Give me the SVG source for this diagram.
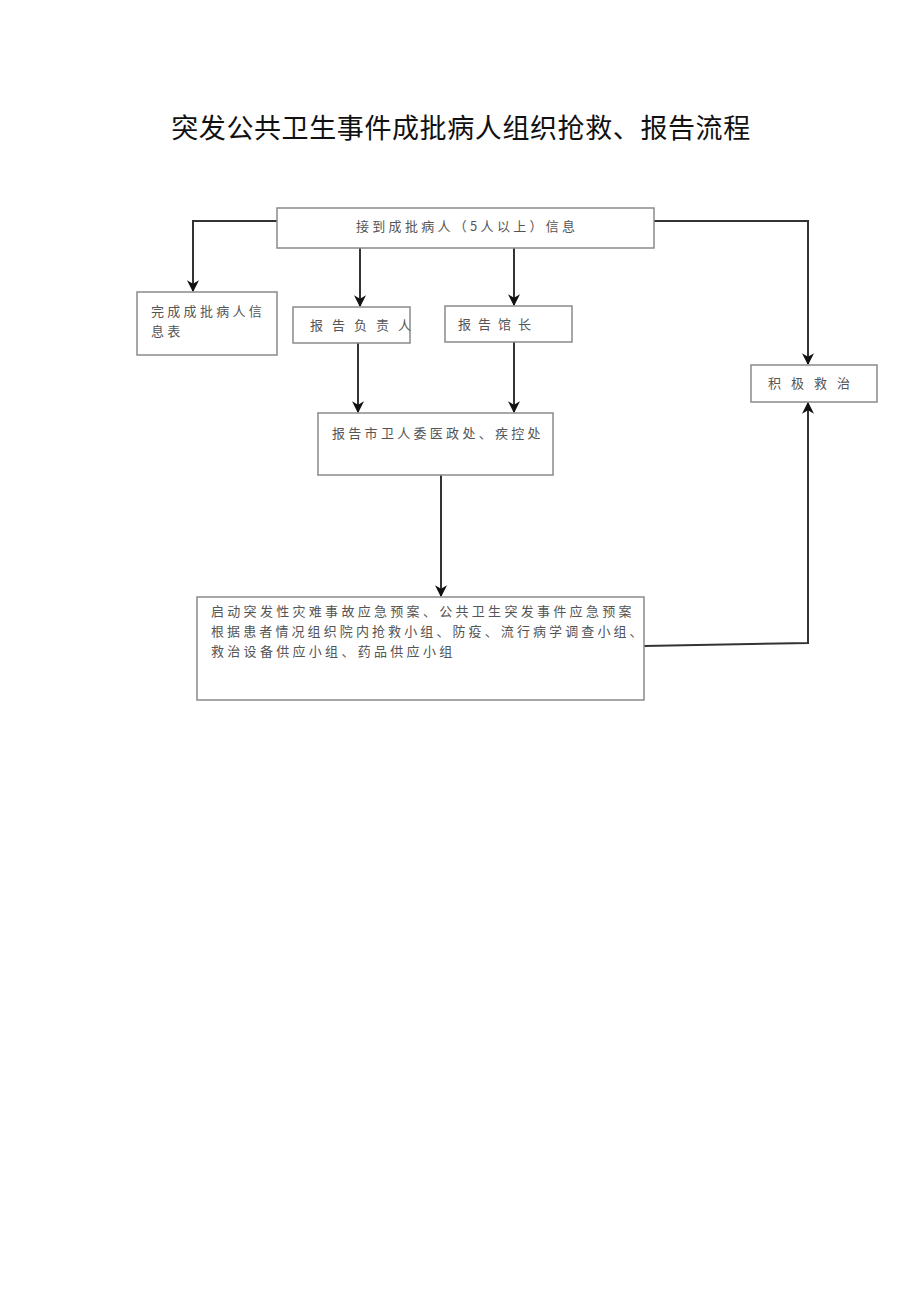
<svg xmlns="http://www.w3.org/2000/svg" width="920" height="1301" viewBox="0 0 920 1301">
<style>
.box{fill:#fff;stroke:#8a8a8a;stroke-width:1.5}
.t{font-family:"Noto Sans CJK SC","Liberation Sans",sans-serif;font-size:13px;fill:#555;letter-spacing:3.3px}
.title{font-family:"Noto Sans CJK SC","Liberation Serif",serif;font-size:27px;fill:#111;letter-spacing:0.6px}
.c{fill:none;stroke:#333;stroke-width:2}
</style>
<defs>
<marker id="ah" viewBox="0 0 10 10" refX="9" refY="5" markerWidth="6" markerHeight="6" orient="auto" markerUnits="strokeWidth">
<path d="M0,0 L10,5 L0,10 L3,5 z" fill="#111"/>
</marker>
</defs>
<rect width="920" height="1301" fill="#fff"/>
<text class="title" x="461" y="138" text-anchor="middle">突发公共卫生事件成批病人组织抢救、报告流程</text>
<g id="connectors">
<path class="c" d="M277,221 H193 V291" marker-end="url(#ah)"/>
<path class="c" d="M360,248 V306" marker-end="url(#ah)"/>
<path class="c" d="M514,248 V305" marker-end="url(#ah)"/>
<path class="c" d="M654,221 H808 V364" marker-end="url(#ah)"/>
<path class="c" d="M358,343 V412" marker-end="url(#ah)"/>
<path class="c" d="M514,342 V412" marker-end="url(#ah)"/>
<path class="c" d="M441,475 L441,596" marker-end="url(#ah)"/>
<path class="c" d="M644,646 L808,643 V403" marker-end="url(#ah)"/>
</g>
<g id="n-receive">
<rect class="box" x="277" y="208" width="377" height="40"/>
<text class="t" x="356" y="231">接到成批病人（5人以上）信息</text>
</g>
<g id="n-form">
<rect class="box" x="137" y="292" width="140" height="63"/>
<text class="t" x="151" y="316">完成成批病人信</text>
<text class="t" x="151" y="336">息表</text>
</g>
<g id="n-leader">
<rect class="box" x="293" y="307" width="117" height="36"/>
<text class="t" x="310" y="330" style="letter-spacing:9px">报告负责人</text>
</g>
<g id="n-director">
<rect class="box" x="445" y="306" width="127" height="36"/>
<text class="t" x="458" y="329" style="letter-spacing:7px">报告馆长</text>
</g>
<g id="n-treat">
<rect class="box" x="751" y="365" width="126" height="37"/>
<text class="t" x="768" y="388" style="letter-spacing:10px">积极救治</text>
</g>
<g id="n-bureau">
<rect class="box" x="318" y="413" width="235" height="62"/>
<text class="t" x="332" y="438">报告市卫人委医政处、疾控处</text>
</g>
<g id="n-plan">
<rect class="box" x="197" y="597" width="447" height="103"/>
<text class="t" x="211" y="616">启动突发性灾难事故应急预案、公共卫生突发事件应急预案</text>
<text class="t" x="211" y="636" style="letter-spacing:3.1px">根据患者情况组织院内抢救小组、防疫、流行病学调查小组、</text>
<text class="t" x="211" y="656">救治设备供应小组、药品供应小组</text>
</g>
</svg>
